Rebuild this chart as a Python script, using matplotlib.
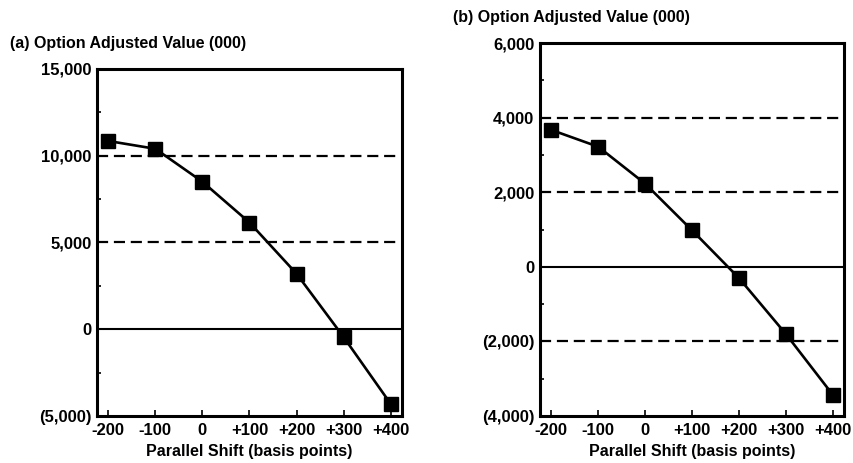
import matplotlib
matplotlib.use('Agg')
import matplotlib.pyplot as plt
from matplotlib.ticker import FixedLocator, FuncFormatter

plt.rcParams['font.family'] = ['Liberation Sans', 'DejaVu Sans']

# rate shift scenarios, basis points
shifts = [-200, -100, 0, 100, 200, 300, 400]
shift_labels = ['-200', '-100', '0', '+100', '+200', '+300', '+400']

# option adjusted value (000) for each portfolio
value_a = [10850, 10400, 8500, 6150, 3200, -450, -4300]
value_b = [3670, 3220, 2230, 980, -300, -1800, -3430]

ticks_a = [-5000, 0, 5000, 10000, 15000]
dashed_a = [5000, 10000]
minor_a = [-2500, 2500, 7500, 12500]

ticks_b = [-4000, -2000, 0, 2000, 4000, 6000]
dashed_b = [-2000, 2000, 4000]
minor_b = [-3000, -1000, 1000, 3000, 5000]


def money(v, pos=None):
    if v < 0:
        return f"({abs(v):,.0f})"
    return f"{v:,.0f}"


def draw_panel(ax, values, ticks, dashed, minor):
    ax.set_xlim(-224, 424)
    ax.set_ylim(ticks[0], ticks[-1])
    for y in dashed:
        ax.axhline(y, xmax=0.985, color='black', lw=1.6, dashes=(5, 2.6), zorder=1)
    ax.axhline(0, color='black', lw=1.5, zorder=1)
    ax.plot(shifts, values, color='black', lw=1.9, marker='s', markersize=10,
            zorder=3)

    ax.yaxis.set_major_locator(FixedLocator(ticks))
    ax.yaxis.set_minor_locator(FixedLocator(minor))
    ax.yaxis.set_major_formatter(FuncFormatter(money))
    ax.set_xticks(shifts)
    ax.set_xticklabels(shift_labels)
    ax.tick_params(axis='y', which='major', length=0, pad=4)
    ax.tick_params(axis='y', which='minor', direction='in', length=3, width=1.2)
    ax.tick_params(axis='x', direction='in', length=4, width=1.2, pad=5)
    for lab in ax.get_xticklabels() + ax.get_yticklabels():
        lab.set_fontsize(12)
        lab.set_fontweight('bold')
    for s in ax.spines.values():
        s.set_linewidth(2.2)
    ax.set_xlabel('Parallel Shift (basis points)', fontsize=11.5, fontweight='bold',
                  labelpad=4)


fig = plt.figure(figsize=(8.54, 4.63), dpi=100)
ax_a = fig.add_axes([0.1136, 0.1015, 0.3571, 0.7495])
ax_b = fig.add_axes([0.6323, 0.1015, 0.356, 0.8056])

draw_panel(ax_a, value_a, ticks_a, dashed_a, minor_a)
draw_panel(ax_b, value_b, ticks_b, dashed_b, minor_b)

fig.text(0.012, 0.907, '(a) Option Adjusted Value (000)', fontsize=11.5,
         fontweight='bold', va='center', ha='left')
fig.text(0.530, 0.963, '(b) Option Adjusted Value (000)', fontsize=11.5,
         fontweight='bold', va='center', ha='left')

fig.savefig('out.png', dpi=100)
